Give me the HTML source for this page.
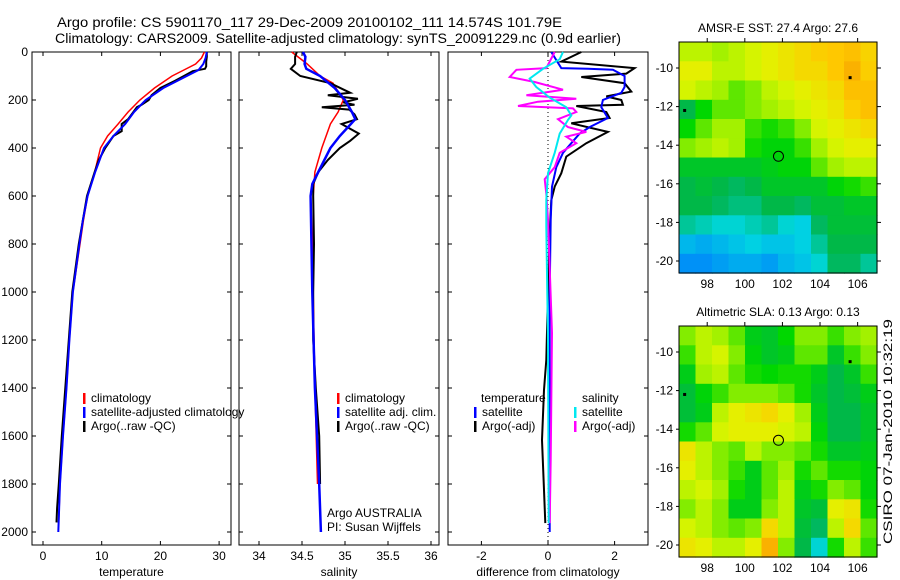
<!DOCTYPE html>
<html><head><meta charset="utf-8"><style>
html,body{margin:0;padding:0;background:#fff;width:900px;height:580px;overflow:hidden}
svg{display:block;font-family:"Liberation Sans",sans-serif}
text{font-size:12px;fill:#000}
</style></head><body>
<svg id="fig" width="900" height="580" viewBox="0 0 900 580" xmlns="http://www.w3.org/2000/svg">
<text x="57" y="27" textLength="505" lengthAdjust="spacingAndGlyphs" style="font-size:13.5px">Argo profile: CS 5901170_117 29-Dec-2009 20100102_111 14.574S 101.79E</text>
<text x="55" y="43" textLength="566" lengthAdjust="spacingAndGlyphs" style="font-size:13.5px">Climatology: CARS2009. Satellite-adjusted climatology: synTS_20091229.nc (0.9d earlier)</text>
<g id="maps"></g>
<g id="panels"></g>
<text transform="translate(892,544) rotate(-90)" textLength="225" lengthAdjust="spacingAndGlyphs">CSIRO 07-Jan-2010 10:32:19</text>
</svg>
<script>
// ---------- data ----------
const tempDepthClim = [0,25,50,75,100,150,200,250,300,350,400,500,600,700,800,1000,1200,1400,1600,1800,1950];
const tempClim = [27.5,27,26,24,22,19,16.5,14.5,12.8,11,9.8,8.8,7.6,6.9,6.3,5.1,4.5,4.0,3.4,2.9,2.7];
const tempDepthSat = [0,25,50,75,100,150,200,250,300,350,400,500,600,700,800,1000,1200,1400,1600,1800,2000];
const tempSat = [27.9,27.7,27.3,26.5,24.5,20.5,17.5,15.5,14,12,10.4,8.9,7.6,6.8,6.2,5.1,4.5,4.0,3.4,2.9,2.6];
const tempDepthArgo = [0,20,40,60,70,80,100,120,150,180,200,220,230,250,280,300,330,350,400,450,500,600,800,1000,1200,1400,1600,1800,1900,1960];
const tempArgo = [27.9,27.9,27.8,27.8,27.6,25.5,24,22.5,20,18.5,18,16.8,16,15.4,14.5,13.4,13.4,12,10.6,9.5,8.8,7.5,6.1,5.0,4.4,3.8,3.2,2.7,2.4,2.3];

const salDepthClim = [0,50,100,130,200,250,300,400,500,600,1000,1400,1800];
const salClim = [34.38,34.56,34.71,34.86,34.98,34.92,34.83,34.73,34.65,34.63,34.63,34.65,34.68];
const salDepthSat = [0,20,50,70,100,150,200,250,280,350,400,500,550,600,1000,1400,1800,2000];
const salSat = [34.51,34.54,34.53,34.55,34.71,34.88,35.0,35.08,35.12,34.94,34.83,34.69,34.62,34.6,34.62,34.65,34.7,34.72];
const salDepthArgo = [0,20,50,70,100,130,170,180,195,210,220,230,240,260,280,300,340,370,400,450,500,550,600,800,1000,1200,1400,1600,1800];
const salArgo = [34.44,34.42,34.42,34.37,34.48,34.83,35.06,34.8,35.15,34.98,35.11,34.73,35.05,35.11,35.14,34.96,35.16,35.06,34.94,34.8,34.69,34.63,34.63,34.64,34.63,34.63,34.66,34.7,34.71];

const diffDepthTA = [0,40,67,90,104,130,165,185,200,220,225,250,275,297,333,380,436,505,561,617,756,1000,1283,1408,1617,1825,1963];
const diffTempArgo = [1.0,0.4,2.6,2.35,1.0,2.3,2.5,1.75,2.2,2.25,0.85,1.75,1.85,0.7,1.8,1.15,0.55,0.4,0.2,0.1,0.05,0,-0.05,-0.12,-0.18,-0.12,-0.08];
const diffDepthTS = [0,67,70,74,100,146,170,200,230,275,313,340,380,420,480,561,700,1000,1500,2000];
const diffTempSat = [0.1,0.4,1.2,1.95,2.3,2.3,2.2,1.65,1.6,1.8,1.25,0.95,0.7,0.45,0.25,0.12,0.08,0.05,0.05,0.05];
const diffDepthSA = [0,67,74,104,125,157,180,195,207,225,235,250,280,313,333,353,380,420,480,530,590,700,1170,1700,1963];
const diffSalArgo = [0.2,-0.05,-0.95,-1.15,-0.4,0.45,-0.65,0.85,-0.3,-0.9,0.75,0.85,0.3,0.6,1.15,0.55,0.85,0.35,0.2,-0.1,-0.05,0,0.12,0.08,0.05];
const diffDepthSS = [0,30,70,111,146,190,230,264,283,340,420,505,617,728,1200,1963];
const diffSalSat = [0.45,0.35,-0.15,-0.55,-0.35,0.05,0.55,0.7,0.6,0.35,0.2,0,-0.05,-0.05,0,0.02];

const sstTitle = "AMSR-E SST: 27.4 Argo: 27.6";
const sstGrid = [
[.66,.66,.64,.66,.68,.70,.72,.74,.76,.77,.78,.75],
[.70,.70,.66,.66,.68,.70,.72,.74,.74,.77,.80,.76],
[.68,.66,.64,.60,.62,.66,.68,.70,.72,.74,.78,.78],
[.46,.55,.60,.60,.62,.64,.66,.68,.70,.72,.76,.78],
[.55,.60,.64,.64,.58,.56,.58,.62,.68,.70,.72,.74],
[.62,.64,.66,.64,.56,.54,.54,.58,.64,.68,.70,.70],
[.50,.50,.50,.50,.50,.52,.54,.54,.60,.64,.66,.66],
[.46,.48,.46,.44,.46,.50,.50,.50,.50,.54,.56,.58],
[.46,.46,.44,.42,.42,.46,.46,.44,.48,.48,.50,.50],
[.40,.38,.36,.36,.38,.40,.36,.34,.44,.48,.48,.48],
[.30,.28,.30,.32,.34,.32,.32,.34,.40,.46,.46,.46],
[.24,.24,.26,.28,.28,.26,.30,.32,.36,.44,.44,.40]];
const slaTitle = "Altimetric SLA: 0.13 Argo: 0.13";
const slaGrid = [
[.62,.66,.64,.60,.52,.50,.55,.62,.62,.58,.62,.64],
[.58,.66,.68,.62,.54,.50,.52,.60,.60,.50,.58,.62],
[.52,.64,.66,.60,.56,.55,.56,.56,.52,.46,.50,.58],
[.48,.54,.58,.62,.62,.62,.60,.56,.50,.46,.48,.52],
[.48,.52,.66,.70,.72,.74,.70,.64,.52,.46,.46,.50],
[.56,.60,.68,.70,.70,.70,.68,.66,.54,.46,.46,.50],
[.72,.66,.62,.60,.66,.62,.62,.60,.56,.50,.50,.52],
[.70,.66,.62,.58,.52,.60,.64,.56,.60,.56,.56,.54],
[.66,.68,.64,.56,.52,.60,.66,.52,.56,.62,.60,.54],
[.62,.66,.62,.52,.52,.62,.66,.50,.48,.70,.72,.56],
[.68,.66,.62,.60,.62,.74,.66,.48,.44,.66,.74,.60],
[.72,.70,.66,.66,.70,.80,.62,.46,.36,.56,.66,.58]];
const argoLon = 101.79, argoLat = -14.574;
const lonTicks = [98,100,102,104,106];
const latTicks = [-10,-12,-14,-16,-18,-20];
const depthTicks = [0,200,400,600,800,1000,1200,1400,1600,1800,2000];
const tempTicks = [0,10,20,30];
const salTicks = [34,34.5,35,35.5,36];
const diffTicks = [-2,0,2];

// ---------- helpers ----------
const NS="http://www.w3.org/2000/svg";
function mk(tag,attrs,parent){const e=document.createElementNS(NS,tag);for(const k in attrs)e.setAttribute(k,attrs[k]);parent.appendChild(e);return e;}
const panels=document.getElementById('panels');
const TOP=52,BOT=545;
const yD=d=>TOP+d*0.24;

function panel(name,x0,x1,xs,xticks,xlabel,fmt){
  const g=mk('g',{},panels);
  
  
  const r=mk('rect',{x:x0,y:TOP,width:x1-x0,height:BOT-TOP,fill:'none',stroke:'#000','stroke-width':1},g);
  
  
  xticks.forEach(v=>{
    const x=xs(v);
    mk('line',{x1:x,x2:x,y1:TOP,y2:TOP+4,stroke:'#000'},g);
    mk('line',{x1:x,x2:x,y1:BOT,y2:BOT-4,stroke:'#000'},g);
    const t=mk('text',{x:x,y:BOT+15,'text-anchor':'middle'},g);t.textContent=fmt(v);
    
    
  });
  depthTicks.forEach(d=>{
    const y=yD(d);
    mk('line',{x1:x0,x2:x0+4,y1:y,y2:y,stroke:'#000'},g);
    mk('line',{x1:x1,x2:x1-4,y1:y,y2:y,stroke:'#000'},g);
  });
  const l=mk('text',{x:(x0+x1)/2,y:576,'text-anchor':'middle'},g);l.textContent=xlabel;
  
  
  return g;
}
function line(g,name,depths,vals,xs,color,w){
  const pts=depths.map((d,i)=>xs(vals[i]).toFixed(1)+','+yD(d).toFixed(1)).join(' ');
  const p=mk('polyline',{points:pts,fill:'none',stroke:color,'stroke-width':w,'stroke-linejoin':'miter'},g);
  
  
}
function legend(g,x,y,color,label,name){
  if(color){const m=mk('rect',{x:x-8,y:y-9,width:2.5,height:11,fill:color},g);
    
    }
  const t=mk('text',{x:x,y:y},g);t.textContent=label;
  
  
}

depthTicks.forEach(d=>{
  const t=mk('text',{x:28,y:yD(d)+4,'text-anchor':'end'},panels);t.textContent=d;
  
  
});

const xT=v=>43+v*5.87;
const g1=panel('temperature-panel',32,231,xT,tempTicks,'temperature',v=>v);
line(g1,'temp-climatology-line',tempDepthClim,tempClim,xT,'#ff0000',1.5);
line(g1,'temp-argo-line',tempDepthArgo,tempArgo,xT,'#000',2);
line(g1,'temp-satellite-line',tempDepthSat,tempSat,xT,'#0000ff',2);
legend(g1,91,402,'#ff0000','climatology','legend-climatology');
legend(g1,91,416,'#0000ff','satellite-adjusted climatology','legend-satellite-adjusted');
legend(g1,91,430,'#000','Argo(..raw -QC)','legend-argo');

const xS=v=>302+(v-34.5)*86;
const g2=panel('salinity-panel',239,439,xS,salTicks,'salinity',v=>v);
line(g2,'sal-climatology-line',salDepthClim,salClim,xS,'#ff0000',1.5);
line(g2,'sal-argo-line',salDepthArgo,salArgo,xS,'#000',2);
line(g2,'sal-satellite-line',salDepthSat,salSat,xS,'#0000ff',2.5);
legend(g2,345,402,'#ff0000','climatology','legend-sal-climatology');
legend(g2,345,416,'#0000ff','satellite adj. clim.','legend-sal-satellite');
legend(g2,345,430,'#000','Argo(..raw -QC)','legend-sal-argo');
legend(g2,327,517,null,'Argo AUSTRALIA','argo-australia-label');
legend(g2,327,531,null,'PI: Susan Wijffels','pi-label');

const xF=v=>548+v*33.3;
const g3=panel('difference-panel',448,648,xF,diffTicks,'difference from climatology',v=>v);
const z=mk('line',{x1:xF(0),x2:xF(0),y1:TOP,y2:BOT,stroke:'#000','stroke-dasharray':'1,3'},g3);


line(g3,'diff-temp-argo-line',diffDepthTA,diffTempArgo,xF,'#000',2);
line(g3,'diff-temp-sat-line',diffDepthTS,diffTempSat,xF,'#0000ff',2);
line(g3,'diff-sal-argo-line',diffDepthSA,diffSalArgo,xF,'#ff00ff',2);
line(g3,'diff-sal-sat-line',diffDepthSS,diffSalSat,xF,'#00e8f0',2);
legend(g3,481,402,null,'temperature','legend-temperature-header');
legend(g3,482,416,'#0000ff','satellite','legend-temp-satellite');
legend(g3,482,430,'#000','Argo(-adj)','legend-temp-argo');
legend(g3,582,402,null,'salinity','legend-salinity-header');
legend(g3,582,416,'#00e8f0','satellite','legend-sal-satellite-diff');
legend(g3,582,430,'#ff00ff','Argo(-adj)','legend-sal-argo-diff');

// ---------- maps ----------
const stops=[[0.2,[0,120,255]],[0.35,[0,215,225]],[0.45,[0,180,80]],[0.55,[0,215,0]],[0.63,[150,240,0]],[0.69,[225,245,0]],[0.77,[255,200,0]],[0.86,[240,130,0]]];
function cmap(v){
  if(v<=stops[0][0])return stops[0][1];
  for(let i=1;i<stops.length;i++){if(v<=stops[i][0]){const a=stops[i-1],b=stops[i],t=(v-a[0])/(b[0]-a[0]);return a[1].map((c,k)=>Math.round(c+(b[1][k]-c)*t));}}
  return stops[stops.length-1][1];
}
const maps=document.getElementById('maps');
const LON0=96.5,LON1=107.03;
function drawMap(name,grid,title,y0,y1,lat10y,lat20y){
  const g=mk('g',{},maps);
  
  
  const x0=679,x1=877;
  const ppd=(lat20y-lat10y)/10;
  const xL=lon=>x0+(lon-LON0)/(LON1-LON0)*(x1-x0);
  const yL=lat=>lat10y+(-10-lat)*ppd;
  const rows=grid.length,cols=grid[0].length;
  const latTop=-10+(lat10y-y0)/ppd, latBot=-10-(y1-lat10y)/ppd;
  for(let r=0;r<rows;r++)for(let c=0;c<cols;c++){
    const la0=latTop+(latBot-latTop)*r/rows, la1=latTop+(latBot-latTop)*(r+1)/rows;
    const lo0=LON0+(LON1-LON0)*c/cols, lo1=LON0+(LON1-LON0)*(c+1)/cols;
    const col=cmap(grid[r][c]);
    const cell=mk('rect',{x:xL(lo0).toFixed(1),y:yL(la0).toFixed(1),width:(xL(lo1)-xL(lo0)+0.6).toFixed(1),height:(yL(la1)-yL(la0)+0.6).toFixed(1),fill:'rgb('+col.join(',')+')'},g);
    
    
  }
  const fr=mk('rect',{x:x0,y:y0,width:x1-x0,height:y1-y0,fill:'none',stroke:'#000'},g);
  
  
  lonTicks.forEach(v=>{const x=xL(v);
    mk('line',{x1:x,x2:x,y1:y0,y2:y0-4,stroke:'#000'},g);
    const t=mk('text',{x:x,y:y1+15,'text-anchor':'middle'},g);t.textContent=v;
    
    });
  latTicks.forEach(v=>{const y=yL(v);
    mk('line',{x1:x1,x2:x1+4,y1:y,y2:y,stroke:'#000'},g);
    mk('line',{x1:x0,x2:x0-3,y1:y,y2:y,stroke:'#000'},g);
    const t=mk('text',{x:673,y:y+4,'text-anchor':'end'},g);t.textContent=v;
    
    });
  const tt=mk('text',{x:(x0+x1)/2,y:y0-10,'text-anchor':'middle'},g);tt.textContent=title;
  
  
  const c=mk('circle',{cx:xL(argoLon),cy:yL(argoLat),r:5,fill:'none',stroke:'#000'},g);
  
  
  [[105.6,-10.5],[96.8,-12.2]].forEach(p=>{const d=mk('rect',{x:xL(p[0])-1.5,y:yL(p[1])-1.5,width:3,height:3,fill:'#000'},g);
    
    });
}
drawMap('sst-map',sstGrid,sstTitle,42,273,68,261);
drawMap('sla-map',slaGrid,slaTitle,326,557,352,545);
</script>
</body></html>
